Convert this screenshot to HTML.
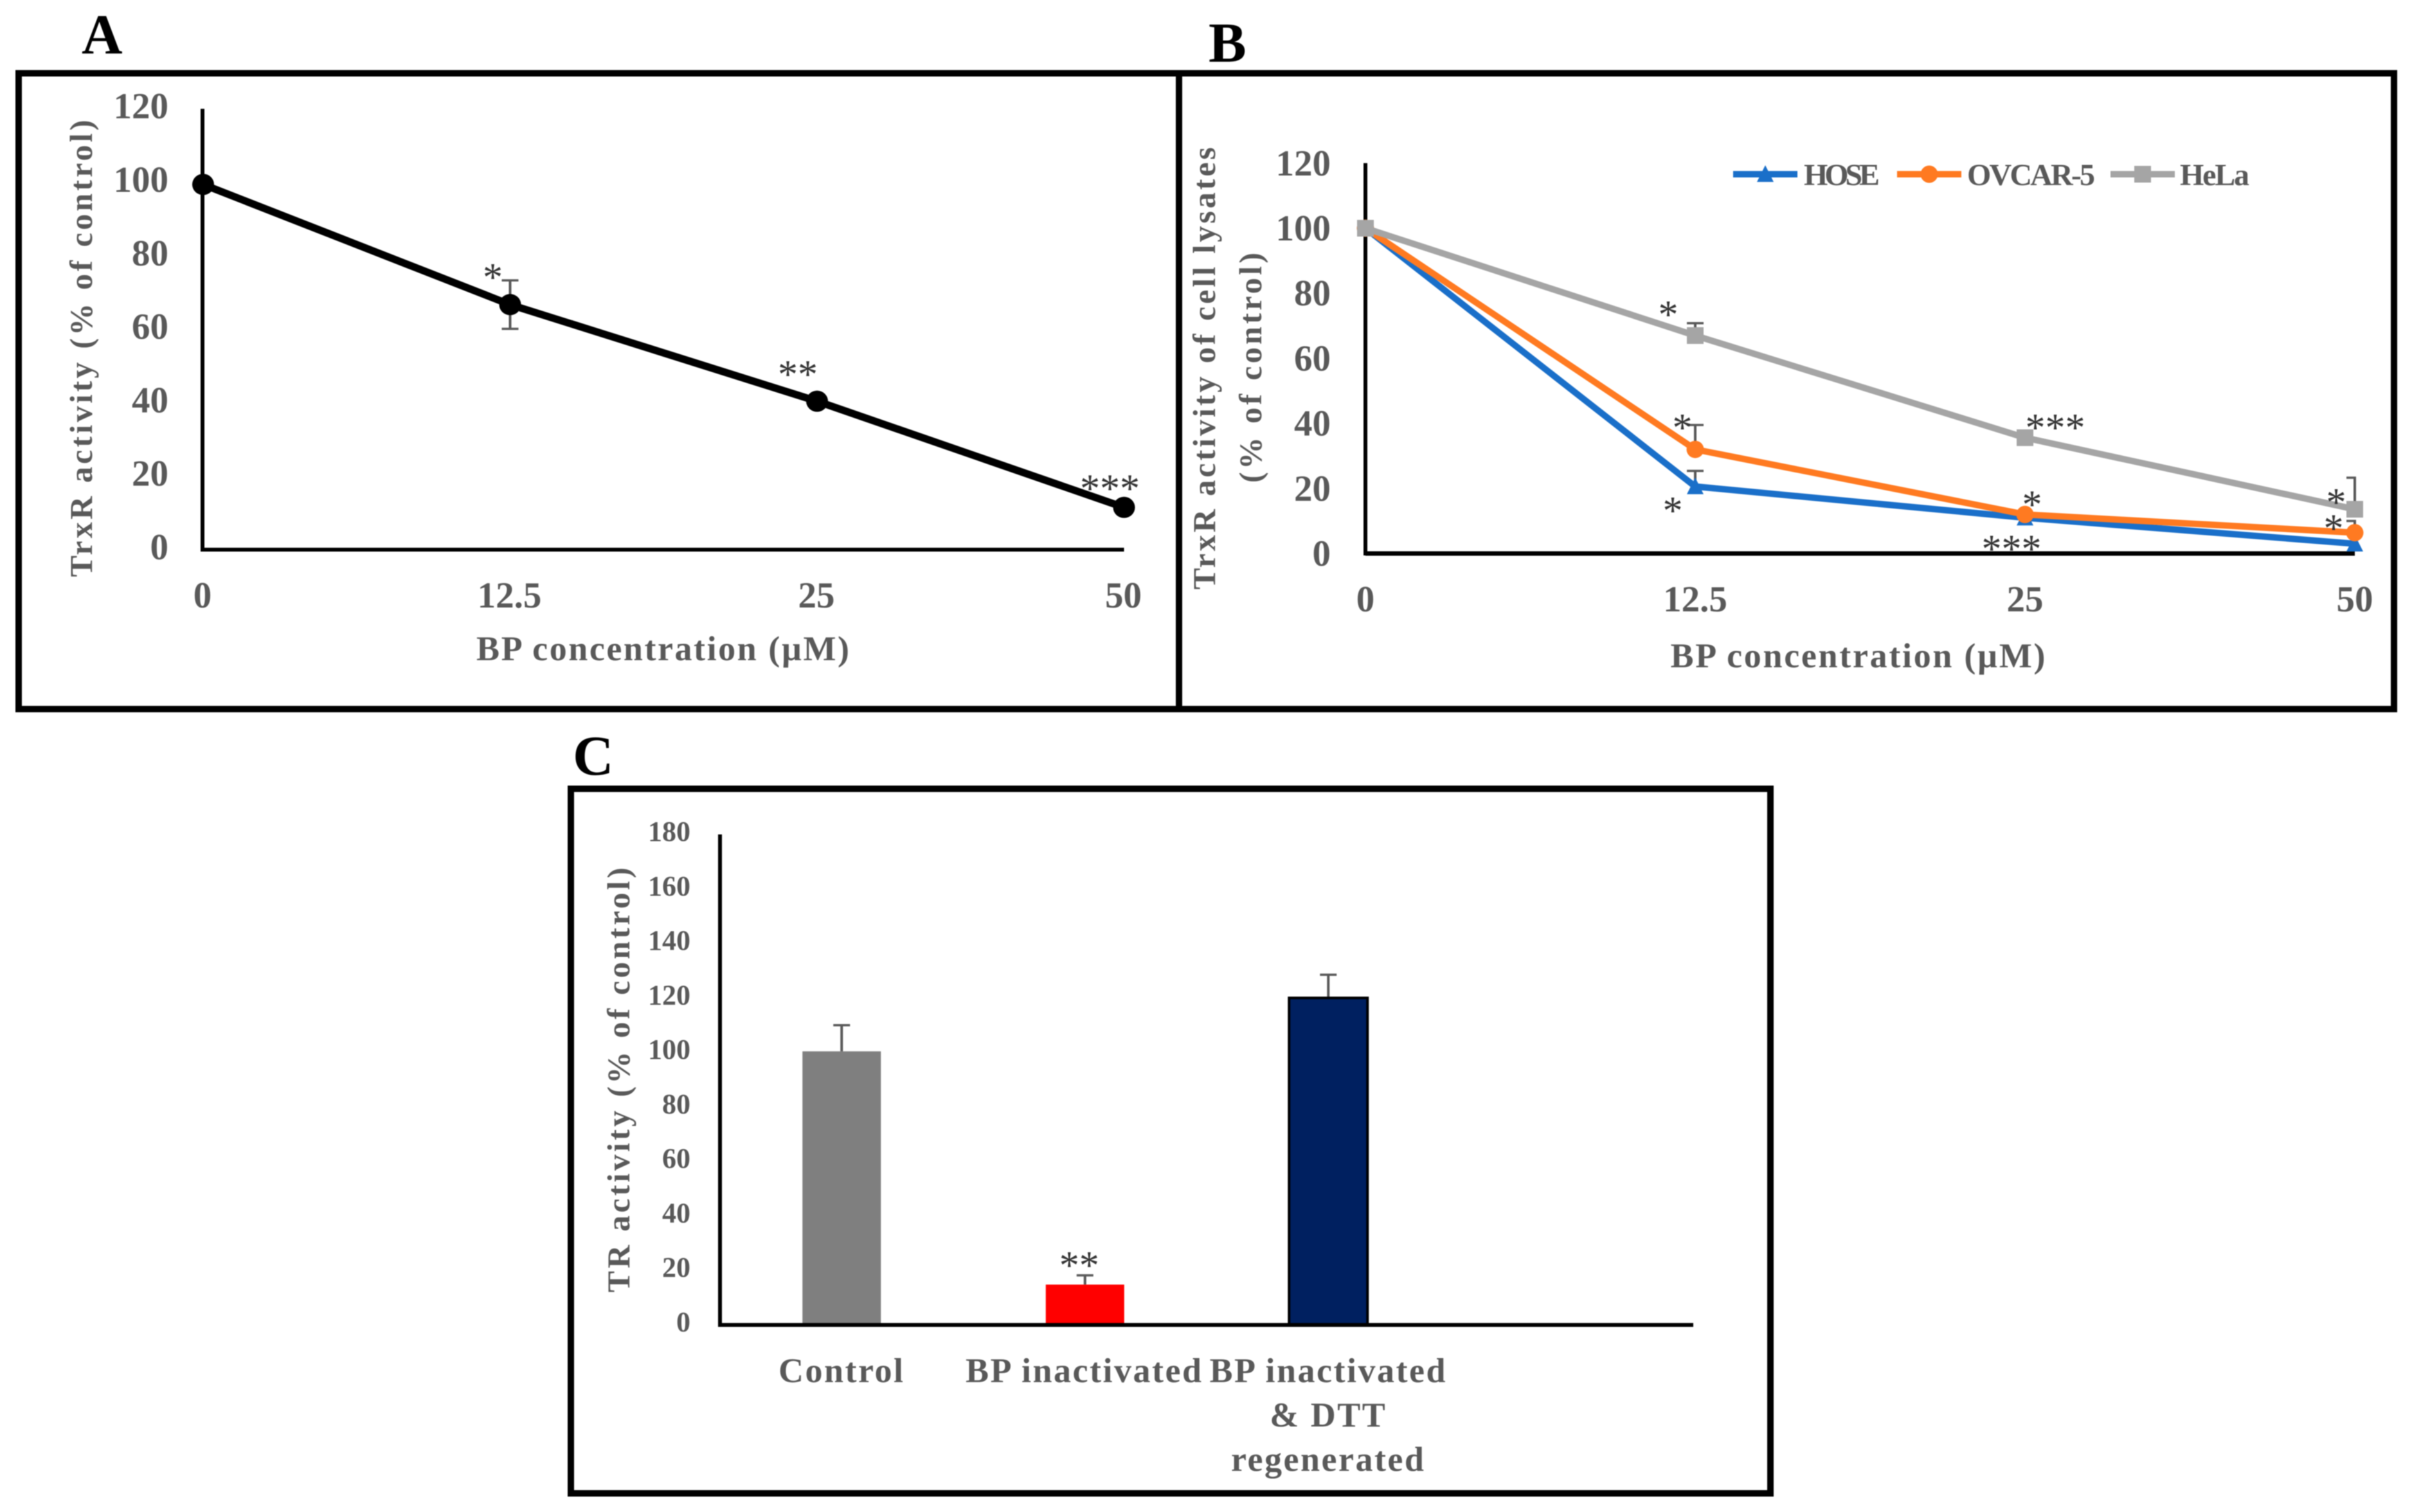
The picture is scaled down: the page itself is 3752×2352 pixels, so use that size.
<!DOCTYPE html>
<html lang="en">
<head>
<meta charset="utf-8">
<title>TrxR activity figure</title>
<style>
html,body{margin:0;padding:0;background:#fff;}
svg{display:block;filter:blur(0.7px);}
text{font-family:"Liberation Serif",serif;}
.lbl{font-weight:bold;fill:#595959;}
.panel{font-weight:bold;fill:#000;font-size:88px;}
</style>
</head>
<body>
<svg id="figure" xmlns="http://www.w3.org/2000/svg" width="3752" height="2352" viewBox="0 0 3752 2352">
  <rect x="0" y="0" width="3752" height="2352" fill="#fff"/>
  <rect x="29" y="114" width="1805" height="989" fill="none" stroke="#000" stroke-width="10"/>
  <rect x="1834" y="114" width="1890" height="989" fill="none" stroke="#000" stroke-width="10"/>
  <rect x="888" y="1227" width="1866" height="1096" fill="none" stroke="#000" stroke-width="10"/>
  <text class="panel" x="127" y="83">A</text>
  <text class="panel" x="1880" y="96">B</text>
  <text class="panel" x="891" y="1205">C</text>

  <text class="lbl" font-size="50" text-anchor="middle" textLength="711" transform="translate(143 542) rotate(-90)">TrxR activity (% of control)</text>
  <text class="lbl" font-size="54" text-anchor="middle" textLength="580" x="1031" y="1027">BP concentration (µM)</text>

  <text class="lbl" font-size="50" text-anchor="middle" textLength="688" transform="translate(1890 573) rotate(-90)">TrxR activity of cell lysates</text>
  <text class="lbl" font-size="50" text-anchor="middle" textLength="358" transform="translate(1962 572) rotate(-90)">(% of control)</text>
  <text class="lbl" font-size="54" text-anchor="middle" textLength="583" x="2890" y="1038">BP concentration (µM)</text>

  <text class="lbl" font-size="50" text-anchor="middle" textLength="661" transform="translate(979 1680) rotate(-90)">TR activity (% of control)</text>

  <g id="chart-a"></g>
  <g id="chart-b"></g>
  <g id="chart-c"></g>
</svg>
<script>
// Panel A data
var aCategories = ['0', '12.5', '25', '50'];
var aValues = [99.4, 66.7, 40.4, 11.5];
var aErrors = [0, 6.6, 0, 0];
var aStars = ['', '*', '**', '***'];
var aTicks = [0, 20, 40, 60, 80, 100, 120];

// Panel B data
var bCategories = ['0', '12.5', '25', '50'];
var bTicks = [0, 20, 40, 60, 80, 100, 120];
var hoseValues = [100, 20.6, 11, 3];
var ovcarValues = [100, 32, 12, 6.4];
var helaValues = [100, 67, 35.6, 13.6];
var hoseErrors = [0, 4.8, 0, 0];
var ovcarErrors = [0, 7.5, 0, 3.6];
var helaErrors = [0, 3.8, 0, 9.7];

// Panel C data
var cCategories = [['Control'], ['BP inactivated'], ['BP inactivated', '& DTT', 'regenerated']];
var cValues = [100.4, 14.8, 120];
var cErrors = [9.6, 3.4, 8.5];
var cTicks = [0, 20, 40, 60, 80, 100, 120, 140, 160, 180];

var NS = 'http://www.w3.org/2000/svg';
function mk(parent, tag, attrs, txt) {
  var el = document.createElementNS(NS, tag);
  for (var k in attrs) { el.setAttribute(k, attrs[k]); }
  if (txt !== undefined) { el.textContent = txt; }
  parent.appendChild(el);
  return el;
}
function name(el, n) {
  
  
  return el;
}
function errorBar(parent, x, yTop, yBase, cap, label, clipRight) {
  var g = mk(parent, 'g', {stroke: '#595959', fill: 'none'});
  
  
  mk(g, 'line', {x1: x, x2: x, y1: yBase, y2: yTop, 'stroke-width': 4});
  mk(g, 'line', {x1: x - cap / 2, x2: clipRight ? x + 2 : x + cap / 2, y1: yTop, y2: yTop, 'stroke-width': 3.5});
  return g;
}
function star(parent, txt, cx, cy, label) {
  // cx, cy are the visual centre of the asterisks
  var el = mk(parent, 'text', {x: cx, y: cy + 27, 'font-size': 62, 'text-anchor': 'middle', fill: '#333'}, txt);
  
  
  return el;
}

/* ---------- Panel A ---------- */
(function () {
  var g = document.getElementById('chart-a');
  function x(i) { return 316 + i * 477.5; }
  function y(v) { return 855 - 5.715 * v; }
  aTicks.forEach(function (t) {
    var el = mk(g, 'text', {x: 262, y: y(t) + 15, 'font-size': 57, 'text-anchor': 'end', 'class': 'lbl'}, t);
    
    
  });
  aCategories.forEach(function (c, i) {
    var el = mk(g, 'text', {x: x(i) - 1, y: 945, 'font-size': 57, 'text-anchor': 'middle', 'class': 'lbl'}, c);
    
    
  });
  name(mk(g, 'line', {x1: 315, x2: 315, y1: y(120), y2: y(0) + 3, stroke: '#000', 'stroke-width': 6}), 'panel-a-y-axis');
  name(mk(g, 'line', {x1: 315, x2: x(3), y1: y(0), y2: y(0), stroke: '#000', 'stroke-width': 6}), 'panel-a-x-axis');
  aValues.forEach(function (v, i) {
    if (aErrors[i]) {
      errorBar(g, x(i), y(v + aErrors[i]), y(v - aErrors[i]), 26, 'panel-a-error-bar-' + i);
      var c = mk(g, 'line', {x1: x(i) - 13, x2: x(i) + 13, y1: y(v - aErrors[i]), y2: y(v - aErrors[i]), stroke: '#595959', 'stroke-width': 3.5});
      
      
    }
  });
  var pts = aValues.map(function (v, i) { return x(i) + ',' + y(v); }).join(' ');
  name(mk(g, 'polyline', {points: pts, fill: 'none', stroke: '#000', 'stroke-width': 11.5}), 'panel-a-line');
  aValues.forEach(function (v, i) {
    var d = mk(g, 'ellipse', {cx: x(i), cy: y(v), rx: 17, ry: 16.5, fill: '#000'});
    
    
    if (aStars[i]) {
      var off = [0, [-27, -49], [-30, -48], [-22, -36]][i];
      star(g, aStars[i], x(i) + off[0], y(v) + off[1], 'panel-a-significance-' + i);
    }
  });
})();

/* ---------- Panel B ---------- */
(function () {
  var g = document.getElementById('chart-b');
  function x(i) { return 2124 + i * 513; }
  function y(v) { return 861 - 5.06 * v; }
  bTicks.forEach(function (t) {
    var el = mk(g, 'text', {x: 2070, y: y(t) + 19, 'font-size': 57, 'text-anchor': 'end', 'class': 'lbl'}, t);
    
    
  });
  bCategories.forEach(function (c, i) {
    var el = mk(g, 'text', {x: x(i), y: 951, 'font-size': 57, 'text-anchor': 'middle', 'class': 'lbl'}, c);
    
    
  });
  name(mk(g, 'line', {x1: 2124, x2: 2124, y1: y(120), y2: y(0) + 3, stroke: '#000', 'stroke-width': 6}), 'panel-b-y-axis');
  name(mk(g, 'line', {x1: 2124, x2: x(3), y1: y(0), y2: y(0), stroke: '#000', 'stroke-width': 7}), 'panel-b-x-axis');

  function errs(vals, errors, label) {
    vals.forEach(function (v, i) {
      if (errors[i]) { errorBar(g, x(i), y(v + errors[i]), y(v), 26, 'panel-b-error-' + label + '-' + i, i === vals.length - 1); }
    });
  }
  errs(hoseValues, hoseErrors, 'hose');
  errs(ovcarValues, ovcarErrors, 'ovcar');
  errs(helaValues, helaErrors, 'hela');

  function linePts(vals) { return vals.map(function (v, i) { return x(i) + ',' + y(v); }).join(' '); }
  function tri(parent, cx, cy, fill) {
    return mk(parent, 'polygon', {points: (cx - 13) + ',' + (cy + 12) + ' ' + (cx + 13) + ',' + (cy + 12) + ' ' + cx + ',' + (cy - 14), fill: fill});
  }
  function dot(parent, cx, cy, fill) {
    return mk(parent, 'ellipse', {cx: cx, cy: cy, rx: 13.5, ry: 13.5, fill: fill});
  }
  function sq(parent, cx, cy, fill) {
    return mk(parent, 'rect', {x: cx - 13, y: cy - 13, width: 26, height: 26, fill: fill});
  }

  name(mk(g, 'polyline', {points: linePts(hoseValues), fill: 'none', stroke: '#1A6FC9', 'stroke-width': 10}), 'hose-line');
  hoseValues.forEach(function (v, i) {
    var m = tri(g, x(i), y(v), '#1A6FC9');
    
    
  });
  name(mk(g, 'polyline', {points: linePts(ovcarValues), fill: 'none', stroke: '#FF7A21', 'stroke-width': 10}), 'ovcar-5-line');
  ovcarValues.forEach(function (v, i) {
    var m = dot(g, x(i), y(v), '#FF7A21');
    
    
  });
  name(mk(g, 'polyline', {points: linePts(helaValues), fill: 'none', stroke: '#A5A5A5', 'stroke-width': 10}), 'hela-line');
  helaValues.forEach(function (v, i) {
    var m = sq(g, x(i), y(v), '#A5A5A5');
    
    
  });

  star(g, '*', x(1) - 42, y(helaValues[1]) - 39, 'hela-significance-12-5');
  star(g, '*', x(1) - 20, y(ovcarValues[1]) - 40, 'ovcar-5-significance-12-5');
  star(g, '*', x(1) - 35, y(hoseValues[1]) + 31, 'hose-significance-12-5');
  star(g, '***', x(2) + 47, y(helaValues[2]) - 22, 'hela-significance-25');
  star(g, '*', x(2) + 11, y(ovcarValues[2]) - 22, 'ovcar-5-significance-25');
  star(g, '***', x(2) - 21, y(hoseValues[2]) + 42, 'hose-significance-25');
  star(g, '*', x(3) - 29, y(helaValues[3]) - 17, 'hela-significance-50');
  star(g, '*', x(3) - 33, y(ovcarValues[3]) - 13, 'ovcar-5-significance-50');

  // legend
  var lg = mk(g, 'g', {});
  
  
  var le1 = mk(lg, 'line', {x1: 2696, x2: 2796, y1: 271, y2: 271, stroke: '#1A6FC9', 'stroke-width': 10});
  
  
  var lm1 = tri(lg, 2746, 271, '#1A6FC9');
  
  
  var lt1 = mk(lg, 'text', {x: 2806, y: 288, 'font-size': 48, textLength: 118, 'class': 'lbl'}, 'HOSE');
  
  
  var le2 = mk(lg, 'line', {x1: 2951, x2: 3051, y1: 271, y2: 271, stroke: '#FF7A21', 'stroke-width': 10});
  
  
  var lm2 = dot(lg, 3001, 271, '#FF7A21');
  
  
  var lt2 = mk(lg, 'text', {x: 3060, y: 288, 'font-size': 48, textLength: 199, 'class': 'lbl'}, 'OVCAR-5');
  
  
  var le3 = mk(lg, 'line', {x1: 3283, x2: 3383, y1: 271, y2: 271, stroke: '#A5A5A5', 'stroke-width': 10});
  
  
  var lm3 = sq(lg, 3333, 271, '#A5A5A5');
  
  
  var lt3 = mk(lg, 'text', {x: 3391, y: 288, 'font-size': 48, textLength: 108, 'class': 'lbl'}, 'HeLa');
  
  
})();

/* ---------- Panel C ---------- */
(function () {
  var g = document.getElementById('chart-c');
  var colors = ['#7F7F7F', '#FF0000', '#002060'];
  var outline = ['none', 'none', '#000'];
  var slugs = ['control', 'bp-inactivated', 'bp-inactivated-dtt-regenerated'];
  function x(i) { return 1120 + 378.5 * (i + 0.5); }
  function y(v) { return 2061 - 4.239 * v; }
  cTicks.forEach(function (t) {
    var el = mk(g, 'text', {x: 1074, y: y(t) + 10, 'font-size': 44, 'text-anchor': 'end', 'class': 'lbl'}, t);
    
    
  });
  cValues.forEach(function (v, i) {
    errorBar(g, x(i), y(v + cErrors[i]), y(v), 26, 'panel-c-error-bar-' + slugs[i]);
    var b = mk(g, 'rect', {x: x(i) - 61, y: y(v), width: 122, height: y(0) - y(v), fill: colors[i], stroke: outline[i], 'stroke-width': 4});
    
    
  });
  cCategories.forEach(function (lines, i) {
    lines.forEach(function (line, j) {
      var el = mk(g, 'text', {x: x(i) - (i === 1 ? 1 : 0), y: 2150 + j * 69, 'font-size': 54, 'letter-spacing': 2.5, 'text-anchor': 'middle', 'class': 'lbl'}, line);
      
      
    });
  });
  name(mk(g, 'line', {x1: 1120, x2: 1120, y1: y(180), y2: y(0) + 3, stroke: '#000', 'stroke-width': 6}), 'panel-c-y-axis');
  name(mk(g, 'line', {x1: 1120, x2: 2634, y1: y(0), y2: y(0), stroke: '#000', 'stroke-width': 6}), 'panel-c-x-axis');
  star(g, '**', x(1) - 9, y(cValues[1] + cErrors[1]) - 22, 'panel-c-significance-bp-inactivated');
})();
</script>
</body>
</html>
